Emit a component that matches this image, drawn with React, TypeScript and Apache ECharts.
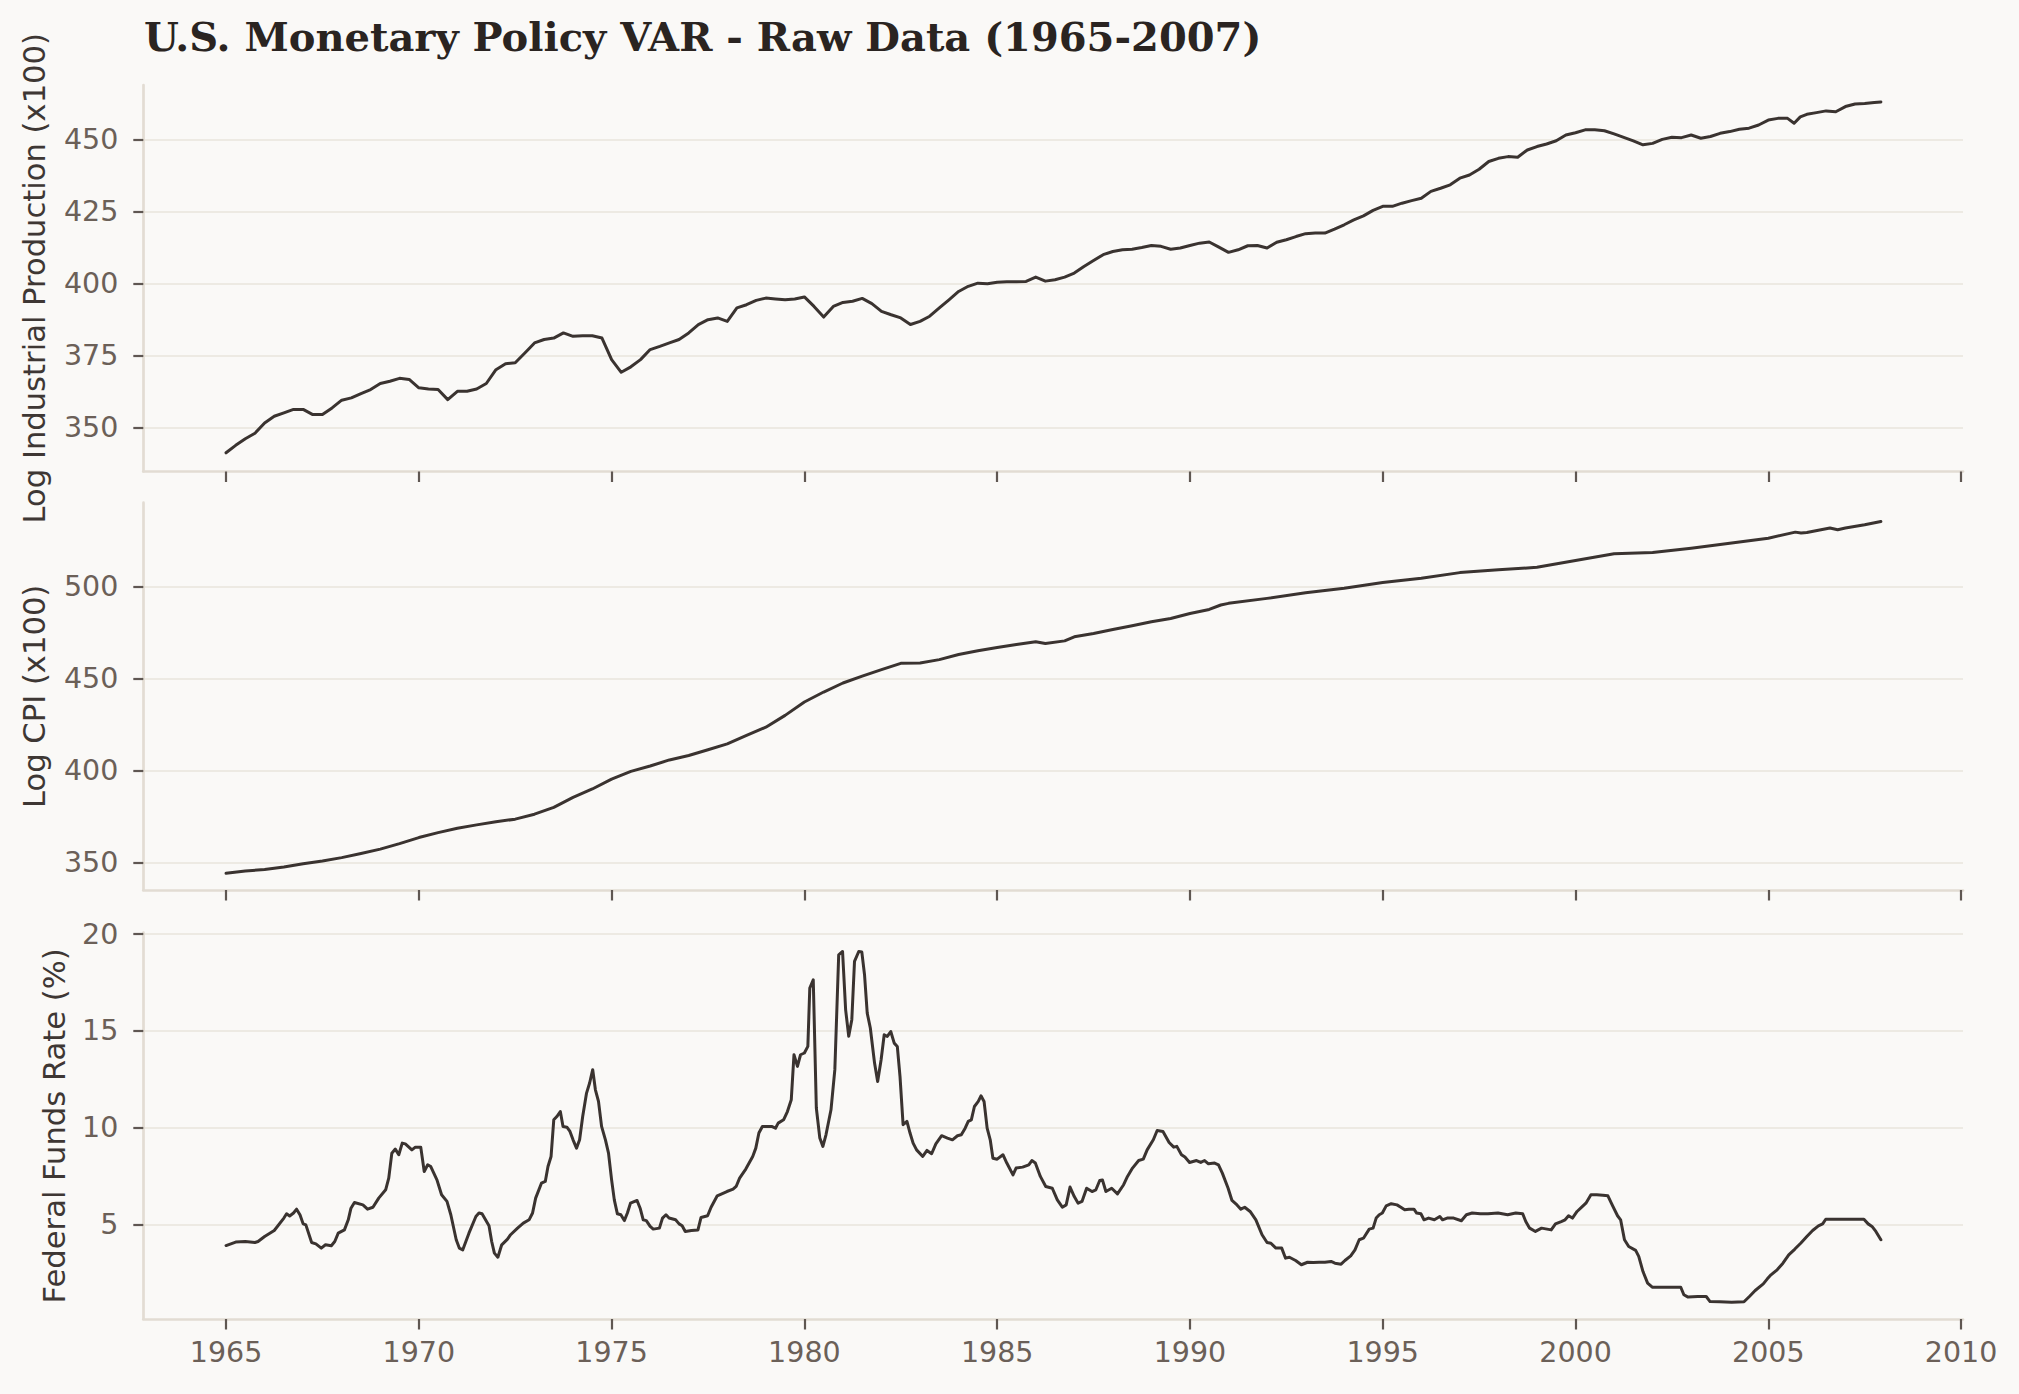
import React, { useEffect, useRef } from 'react';
import * as echarts from 'echarts';

// ---------------- DATA ----------------
const yearTicks = [1965, 1970, 1975, 1980, 1985, 1990, 1995, 2000, 2005, 2010];
const ipTicks = [350, 375, 400, 425, 450];
const cpiTicks = [350, 400, 450, 500];
const ffrTicks = [5, 10, 15, 20];

const titleText = 'U.S. Monetary Policy VAR - Raw Data (1965-2007)';
const panelLabels = ['Log Industrial Production (x100)', 'Log CPI (x100)', 'Federal Funds Rate (%)'];

// Log industrial production x100, [year, value]
const ipSeries: [number, number][] = [
  [1965.0, 341.2], [1965.25, 343.8], [1965.5, 346.1], [1965.75, 348.0], [1966.0, 351.6], [1966.25, 353.9], [1966.5, 355.1], [1966.75, 356.3],
  [1967.0, 356.3], [1967.25, 354.5], [1967.5, 354.5], [1967.75, 356.8], [1968.0, 359.5], [1968.25, 360.3], [1968.5, 361.8], [1968.75, 363.2],
  [1969.0, 365.3], [1969.25, 366.1], [1969.5, 367.1], [1969.75, 366.7], [1970.0, 363.8], [1970.25, 363.4], [1970.5, 363.2], [1970.75, 359.7],
  [1971.0, 362.6], [1971.25, 362.6], [1971.5, 363.4], [1971.75, 365.3], [1972.0, 370.1], [1972.25, 372.2], [1972.5, 372.5], [1972.75, 375.9],
  [1973.0, 379.4], [1973.25, 380.6], [1973.5, 381.1], [1973.75, 382.9], [1974.0, 381.7], [1974.25, 381.9], [1974.5, 381.9], [1974.75, 381.1],
  [1975.0, 373.6], [1975.25, 369.2], [1975.5, 371.1], [1975.75, 373.6], [1976.0, 377.1], [1976.25, 378.2], [1976.5, 379.4], [1976.75, 380.6],
  [1977.0, 382.9], [1977.25, 385.8], [1977.5, 387.5], [1977.75, 388.1], [1978.0, 386.9], [1978.25, 391.6], [1978.5, 392.7], [1978.75, 394.2],
  [1979.0, 395.0], [1979.25, 394.7], [1979.5, 394.4], [1979.75, 394.7], [1980.0, 395.4], [1980.25, 392.1], [1980.5, 388.4], [1980.75, 392.1],
  [1981.0, 393.5], [1981.25, 393.9], [1981.5, 394.9], [1981.75, 393.1], [1982.0, 390.4], [1982.25, 389.2], [1982.5, 388.1], [1982.75, 385.8],
  [1983.0, 386.9], [1983.25, 388.7], [1983.5, 391.6], [1983.75, 394.4], [1984.0, 397.3], [1984.25, 399.1], [1984.5, 400.2], [1984.75, 400.0],
  [1985.0, 400.5], [1985.25, 400.7], [1985.5, 400.7], [1985.75, 400.8], [1986.0, 402.3], [1986.25, 400.9], [1986.5, 401.4], [1986.75, 402.3],
  [1987.0, 403.7], [1987.25, 406.0], [1987.5, 408.1], [1987.75, 410.1], [1988.0, 411.2], [1988.25, 411.8], [1988.5, 412.0], [1988.75, 412.6],
  [1989.0, 413.3], [1989.25, 413.0], [1989.5, 412.0], [1989.75, 412.4], [1990.0, 413.3], [1990.25, 414.1], [1990.5, 414.5], [1990.75, 412.7],
  [1991.0, 410.9], [1991.25, 411.8], [1991.5, 413.2], [1991.75, 413.3], [1992.0, 412.4], [1992.25, 414.4], [1992.5, 415.3], [1992.75, 416.4],
  [1993.0, 417.4], [1993.25, 417.6], [1993.5, 417.6], [1993.75, 419.0], [1994.0, 420.5], [1994.25, 422.2], [1994.5, 423.6], [1994.75, 425.5],
  [1995.0, 426.9], [1995.25, 426.9], [1995.5, 428.0], [1995.75, 428.9], [1996.0, 429.7], [1996.25, 432.1], [1996.5, 433.2], [1996.75, 434.4],
  [1997.0, 436.7], [1997.25, 437.8], [1997.5, 439.8], [1997.75, 442.5], [1998.0, 443.6], [1998.25, 444.2], [1998.5, 444.0], [1998.75, 446.5],
  [1999.0, 447.7], [1999.25, 448.6], [1999.5, 449.7], [1999.75, 451.7], [2000.0, 452.5], [2000.25, 453.5], [2000.5, 453.5], [2000.75, 453.2],
  [2001.0, 452.1], [2001.25, 450.9], [2001.5, 449.7], [2001.75, 448.3], [2002.0, 448.8], [2002.25, 450.2], [2002.5, 450.9], [2002.75, 450.8],
  [2003.0, 451.7], [2003.25, 450.6], [2003.5, 451.2], [2003.75, 452.3], [2004.0, 452.9], [2004.25, 453.7], [2004.5, 454.1], [2004.75, 455.2],
  [2005.0, 456.9], [2005.25, 457.5], [2005.5, 457.5], [2005.67, 455.8], [2005.83, 458.0], [2006.0, 458.9], [2006.25, 459.5], [2006.5, 460.1],
  [2006.75, 459.8], [2007.0, 461.6], [2007.25, 462.5], [2007.5, 462.7], [2007.75, 463.0], [2007.92, 463.2],
];

// Log CPI x100, [year, value]
const cpiSeries: [number, number][] = [
  [1965.0, 344.4], [1965.5, 345.6], [1966.0, 346.5], [1966.5, 347.8], [1967.0, 349.6], [1967.5, 351.1], [1968.0, 352.9], [1968.5, 355.1],
  [1969.0, 357.5], [1969.5, 360.5], [1970.0, 363.8], [1970.5, 366.5], [1971.0, 368.9], [1971.5, 370.7], [1972.0, 372.4], [1972.5, 373.8],
  [1973.0, 376.5], [1973.5, 380.2], [1974.0, 385.6], [1974.5, 390.2], [1975.0, 395.6], [1975.5, 399.8], [1976.0, 402.7], [1976.5, 406.0],
  [1977.0, 408.4], [1977.5, 411.5], [1978.0, 414.7], [1978.5, 419.3], [1979.0, 423.8], [1979.5, 430.2], [1980.0, 437.5], [1980.5, 442.9],
  [1981.0, 447.8], [1981.5, 451.5], [1982.0, 455.1], [1982.5, 458.5], [1983.0, 458.7], [1983.5, 460.5], [1984.0, 463.3], [1984.5, 465.3],
  [1985.0, 467.1], [1985.5, 468.7], [1986.0, 470.2], [1986.25, 469.3], [1986.75, 470.7], [1987.0, 472.9], [1987.5, 474.7], [1988.0, 476.9],
  [1988.5, 478.9], [1989.0, 481.1], [1989.5, 482.9], [1990.0, 485.6], [1990.5, 487.8], [1990.8, 490.2], [1991.0, 491.1], [1992.0, 493.8],
  [1993.0, 496.9], [1994.0, 499.3], [1995.0, 502.4], [1996.0, 504.7], [1997.0, 507.8], [1998.0, 509.3], [1999.0, 510.7], [2000.0, 514.4],
  [2001.0, 518.0], [2002.0, 518.7], [2003.0, 521.1], [2004.0, 523.8], [2005.0, 526.5], [2005.7, 529.8], [2005.85, 529.3], [2006.0, 529.6],
  [2006.6, 532.0], [2006.8, 531.1], [2007.0, 532.0], [2007.5, 533.8], [2007.92, 535.6],
];

// Federal funds rate %, [year, value]
const ffrSeries: [number, number][] = [
  [1965.0, 3.92], [1965.25, 4.1], [1965.5, 4.13], [1965.75, 4.08], [1965.83, 4.13], [1966.0, 4.39], [1966.25, 4.7], [1966.5, 5.34],
  [1966.57, 5.56], [1966.65, 5.45], [1966.75, 5.6], [1966.83, 5.8], [1966.92, 5.5], [1967.0, 5.04], [1967.07, 4.99], [1967.22, 4.08],
  [1967.33, 4.01], [1967.47, 3.79], [1967.58, 3.96], [1967.73, 3.91], [1967.82, 4.13], [1967.91, 4.56], [1968.07, 4.73], [1968.17, 5.25],
  [1968.24, 5.85], [1968.33, 6.14], [1968.55, 6.02], [1968.67, 5.8], [1968.81, 5.9], [1968.96, 6.37], [1969.14, 6.8], [1969.22, 7.4],
  [1969.3, 8.69], [1969.39, 8.9], [1969.48, 8.61], [1969.57, 9.21], [1969.65, 9.17], [1969.82, 8.86], [1969.91, 9.0], [1970.05, 9.0],
  [1970.14, 7.74], [1970.23, 8.09], [1970.31, 8.0], [1970.47, 7.31], [1970.59, 6.54], [1970.73, 6.2], [1970.83, 5.51], [1970.97, 4.22],
  [1971.05, 3.79], [1971.14, 3.7], [1971.3, 4.56], [1971.48, 5.42], [1971.56, 5.6], [1971.64, 5.56], [1971.82, 4.94], [1971.89, 4.13],
  [1971.96, 3.53], [1972.05, 3.32], [1972.15, 3.96], [1972.3, 4.25], [1972.38, 4.48], [1972.56, 4.82], [1972.71, 5.08], [1972.86, 5.25],
  [1972.95, 5.6], [1973.03, 6.37], [1973.18, 7.14], [1973.28, 7.23], [1973.35, 8.0], [1973.43, 8.52], [1973.5, 10.41], [1973.58, 10.58],
  [1973.67, 10.84], [1973.74, 10.07], [1973.84, 10.03], [1973.92, 9.81], [1974.0, 9.38], [1974.09, 8.95], [1974.17, 9.38], [1974.25, 10.58],
  [1974.35, 11.79], [1974.43, 12.31], [1974.51, 13.0], [1974.58, 11.96], [1974.66, 11.36], [1974.74, 10.07], [1974.84, 9.38], [1974.92, 8.69],
  [1975.0, 7.31], [1975.07, 6.28], [1975.15, 5.56], [1975.24, 5.51], [1975.33, 5.21], [1975.41, 5.6], [1975.49, 6.11], [1975.66, 6.25],
  [1975.74, 5.85], [1975.82, 5.25], [1975.9, 5.21], [1976.0, 4.91], [1976.08, 4.77], [1976.24, 4.82], [1976.32, 5.34], [1976.41, 5.51],
  [1976.49, 5.34], [1976.66, 5.25], [1976.75, 5.04], [1976.83, 4.94], [1976.91, 4.65], [1977.07, 4.7], [1977.24, 4.73], [1977.32, 5.37],
  [1977.49, 5.46], [1977.58, 5.9], [1977.74, 6.49], [1977.99, 6.71], [1978.15, 6.83], [1978.23, 6.97], [1978.32, 7.4], [1978.48, 7.87],
  [1978.66, 8.52], [1978.74, 8.95], [1978.82, 9.73], [1978.91, 10.07], [1979.15, 10.07], [1979.25, 9.98], [1979.32, 10.24], [1979.46, 10.41],
  [1979.56, 10.84], [1979.66, 11.45], [1979.73, 13.77], [1979.82, 13.17], [1979.9, 13.77], [1980.0, 13.86], [1980.09, 14.2], [1980.14, 17.21],
  [1980.23, 17.64], [1980.31, 11.02], [1980.4, 9.47], [1980.48, 9.04], [1980.56, 9.64], [1980.69, 10.93], [1980.79, 13.0], [1980.89, 18.93],
  [1980.99, 19.1], [1981.07, 16.09], [1981.15, 14.72], [1981.23, 15.58], [1981.3, 18.59], [1981.41, 19.1], [1981.49, 19.07], [1981.56, 17.9],
  [1981.63, 15.92], [1981.71, 15.15], [1981.82, 13.34], [1981.9, 12.39], [1981.99, 13.51], [1982.07, 14.8], [1982.15, 14.72], [1982.24, 14.97],
  [1982.33, 14.37], [1982.41, 14.2], [1982.48, 12.65], [1982.56, 10.16], [1982.66, 10.33], [1982.74, 9.73], [1982.82, 9.21], [1982.91, 8.86],
  [1983.07, 8.52], [1983.18, 8.83], [1983.3, 8.66], [1983.41, 9.17], [1983.56, 9.59], [1983.71, 9.47], [1983.84, 9.38], [1983.97, 9.59],
  [1984.07, 9.64], [1984.17, 9.98], [1984.25, 10.33], [1984.33, 10.41], [1984.41, 11.1], [1984.51, 11.36], [1984.58, 11.65], [1984.66, 11.36],
  [1984.74, 9.98], [1984.82, 9.38], [1984.89, 8.43], [1985.0, 8.38], [1985.15, 8.61], [1985.25, 8.18], [1985.41, 7.57], [1985.49, 7.92],
  [1985.66, 7.97], [1985.82, 8.09], [1985.9, 8.31], [1985.99, 8.18], [1986.12, 7.49], [1986.26, 6.97], [1986.43, 6.88], [1986.56, 6.28],
  [1986.69, 5.9], [1986.79, 6.02], [1986.89, 6.94], [1987.0, 6.45], [1987.1, 6.11], [1987.2, 6.2], [1987.32, 6.88], [1987.46, 6.71],
  [1987.56, 6.8], [1987.66, 7.28], [1987.73, 7.31], [1987.82, 6.71], [1987.97, 6.88], [1988.12, 6.59], [1988.28, 7.06], [1988.38, 7.49],
  [1988.51, 7.92], [1988.67, 8.31], [1988.79, 8.38], [1988.89, 8.86], [1989.05, 9.38], [1989.15, 9.86], [1989.3, 9.81], [1989.46, 9.24],
  [1989.58, 9.0], [1989.66, 9.04], [1989.78, 8.61], [1989.87, 8.49], [1989.99, 8.21], [1990.17, 8.31], [1990.28, 8.21], [1990.38, 8.31],
  [1990.48, 8.14], [1990.64, 8.18], [1990.74, 8.09], [1990.84, 7.66], [1990.99, 6.88], [1991.09, 6.25], [1991.22, 6.02], [1991.32, 5.8],
  [1991.42, 5.9], [1991.56, 5.68], [1991.71, 5.25], [1991.87, 4.48], [1992.0, 4.08], [1992.1, 4.04], [1992.23, 3.79], [1992.38, 3.79],
  [1992.48, 3.27], [1992.58, 3.32], [1992.74, 3.15], [1992.89, 2.93], [1993.05, 3.06], [1993.2, 3.05], [1993.35, 3.06], [1993.5, 3.06],
  [1993.66, 3.1], [1993.76, 3.01], [1993.92, 2.96], [1994.02, 3.15], [1994.17, 3.39], [1994.28, 3.7], [1994.39, 4.22], [1994.5, 4.3],
  [1994.65, 4.77], [1994.75, 4.82], [1994.83, 5.34], [1994.91, 5.51], [1994.99, 5.6], [1995.09, 5.97], [1995.22, 6.08], [1995.37, 6.02],
  [1995.47, 5.9], [1995.57, 5.77], [1995.68, 5.8], [1995.81, 5.8], [1995.88, 5.6], [1995.99, 5.56], [1996.07, 5.25], [1996.19, 5.34],
  [1996.34, 5.25], [1996.48, 5.42], [1996.55, 5.25], [1996.67, 5.34], [1996.84, 5.34], [1997.04, 5.2], [1997.17, 5.51], [1997.32, 5.6],
  [1997.53, 5.56], [1997.73, 5.56], [1997.99, 5.6], [1998.24, 5.51], [1998.45, 5.6], [1998.63, 5.56], [1998.71, 5.16], [1998.81, 4.82],
  [1998.96, 4.65], [1999.12, 4.82], [1999.37, 4.73], [1999.48, 5.04], [1999.63, 5.16], [1999.73, 5.25], [1999.82, 5.46], [1999.92, 5.34],
  [2000.04, 5.68], [2000.16, 5.9], [2000.27, 6.11], [2000.4, 6.54], [2000.55, 6.54], [2000.71, 6.52], [2000.84, 6.49], [2000.97, 5.94],
  [2001.09, 5.46], [2001.17, 5.25], [2001.27, 4.22], [2001.38, 3.87], [2001.56, 3.67], [2001.64, 3.36], [2001.75, 2.58], [2001.87, 1.98],
  [2001.99, 1.77], [2002.2, 1.77], [2002.51, 1.77], [2002.73, 1.77], [2002.81, 1.38], [2002.92, 1.26], [2003.17, 1.29], [2003.39, 1.29],
  [2003.49, 1.03], [2003.74, 1.02], [2004.05, 1.0], [2004.37, 1.02], [2004.51, 1.29], [2004.66, 1.6], [2004.87, 1.94], [2004.97, 2.19],
  [2005.07, 2.41], [2005.23, 2.67], [2005.38, 3.01], [2005.53, 3.44], [2005.69, 3.74], [2005.84, 4.04], [2006.0, 4.39], [2006.15, 4.7],
  [2006.3, 4.94], [2006.41, 5.04], [2006.49, 5.28], [2006.71, 5.28], [2007.02, 5.28], [2007.33, 5.28], [2007.48, 5.28], [2007.59, 5.04],
  [2007.69, 4.91], [2007.79, 4.65], [2007.92, 4.22],
];

// ---------------- STYLE / LAYOUT ----------------
const W = 2019;
const H = 1394;
const BG = '#faf9f7';
const LINE = '#3a3330';
const SPINE = '#e2dcd3';
const GRIDC = '#e9e4dc';
const TICKC = '#5f5752';
const LABELC = '#6b6058';
const YLABC = '#3e3734';

const plotLeft = 143.3;
const plotRight = 1963;
const panelTops = [85, 502.7, 932.7];
const panelHeights = [386.5, 387.3, 386.3];
const xMin = 1962.854;
const xMax = 2010.05;
const yMins = [334.7, 335.3, 0.13];
const yMaxs = [469.1, 545.8, 20.07];
const yLabelX = [34, 34, 54];
const tickFont = 28.5;
const yLabelFont = 30.6;

export default function App() {
  const ref = useRef<HTMLDivElement>(null);

  useEffect(() => {
    if (!ref.current) return;
    const chart = echarts.init(ref.current, undefined, { renderer: 'svg', width: W, height: H });
    const tickSets = [ipTicks, cpiTicks, ffrTicks];
    const seriesData = [ipSeries, cpiSeries, ffrSeries];

    const grids = panelTops.map((t, i) => ({
      left: plotLeft,
      top: t,
      width: plotRight - plotLeft,
      height: panelHeights[i],
      containLabel: false,
      outerBoundsMode: 'none',
    }));

    const xAxes = panelTops.map((_, i) => ({
      type: 'value',
      gridIndex: i,
      min: xMin,
      max: xMax,
      axisLine: { show: true, onZero: false, lineStyle: { color: SPINE, width: 2.7 } },
      axisTick: {
        show: true,
        length: 10.5,
        inside: false,
        customValues: yearTicks,
        lineStyle: { color: TICKC, width: 2.2 },
      },
      axisLabel: {
        show: i === 2,
        customValues: yearTicks,
        margin: 19,
        fontSize: tickFont,
        fontFamily: 'DejaVu Sans',
        color: LABELC,
        formatter: (v: number) => String(Math.round(v)),
      },
      splitLine: { show: false },
    }));

    const yAxes = panelTops.map((_, i) => ({
      type: 'value',
      gridIndex: i,
      min: yMins[i],
      max: yMaxs[i],
      axisLine: { show: true, lineStyle: { color: SPINE, width: 2.7 } },
      axisTick: {
        show: true,
        length: 10,
        inside: false,
        customValues: tickSets[i],
        lineStyle: { color: TICKC, width: 2.2 },
      },
      axisLabel: {
        show: true,
        customValues: tickSets[i],
        margin: 25,
        fontSize: tickFont,
        fontFamily: 'DejaVu Sans',
        color: LABELC,
        formatter: (v: number) => String(Math.round(v)),
      },
      splitLine: { show: true, lineStyle: { color: GRIDC, width: 1.7 } },
    }));

    const series = seriesData.map((d, i) => ({
      type: 'line',
      xAxisIndex: i,
      yAxisIndex: i,
      data: d,
      showSymbol: false,
      symbol: 'none',
      silent: true,
      lineStyle: { color: LINE, width: 3.0, join: 'round', cap: 'round' },
      z: 5,
    }));

    const graphics: any[] = [
      {
        type: 'text',
        x: 144,
        y: 36.5,
        style: {
          text: titleText,
          fontFamily: 'DejaVu Serif',
          fontWeight: 'bold',
          fontSize: 40,
          fill: '#2a2421',
          align: 'left',
          verticalAlign: 'middle',
        },
      },
      ...panelLabels.map((t, i) => ({
        type: 'text',
        x: yLabelX[i],
        y: panelTops[i] + panelHeights[i] / 2,
        rotation: Math.PI / 2,
        style: {
          text: t,
          fontFamily: 'DejaVu Sans',
          fontSize: yLabelFont,
          fill: YLABC,
          align: 'center',
          verticalAlign: 'middle',
        },
      })),
    ];

    chart.setOption({
      animation: false,
      backgroundColor: BG,
      grid: grids,
      xAxis: xAxes,
      yAxis: yAxes,
      series,
      graphic: graphics,
    } as any);

    return () => chart.dispose();
  }, []);

  return (
    <div
      ref={ref}
      style={{ position: 'absolute', left: 0, top: 0, width: W, height: H, background: BG }}
    />
  );
}
